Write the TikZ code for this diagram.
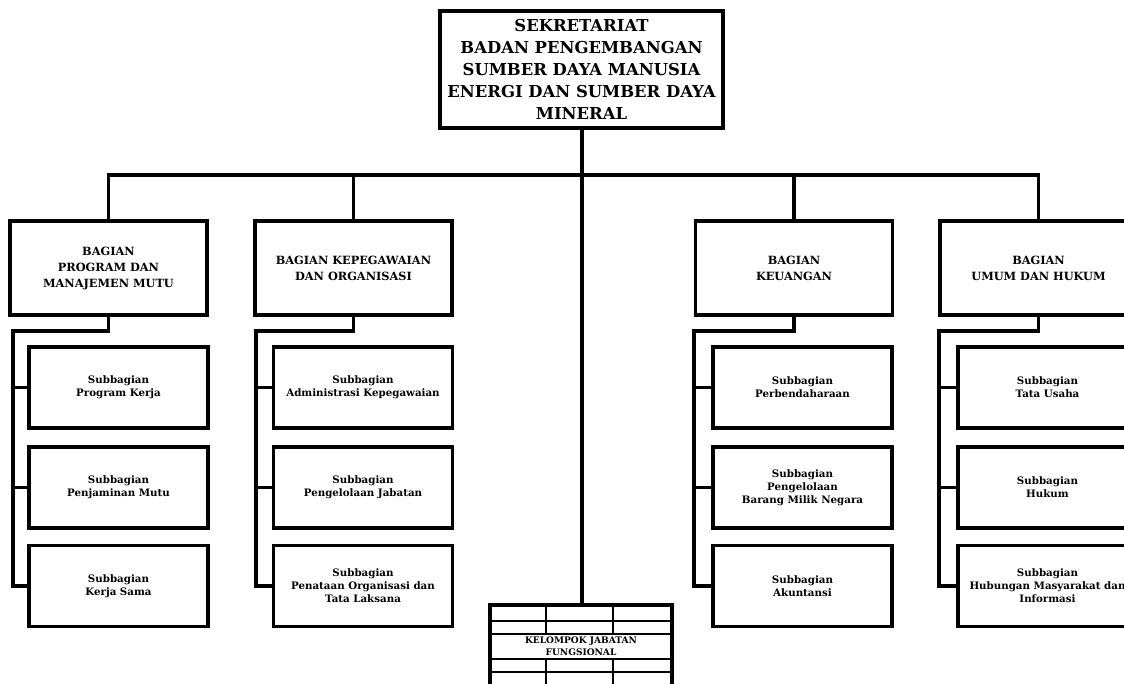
\documentclass[tikz,border=0pt]{standalone}
\usepackage{fontspec}
\setmainfont{DejaVu Serif}
\begin{document}
\begin{tikzpicture}[x=0.75pt,y=-0.75pt,
  ln/.style={line width=2.4pt},
  thin/.style={line width=1.3pt},
  topbox/.style={draw,line width=2.6pt,minimum width=212.25pt,minimum height=87.75pt,inner sep=0pt,outer sep=0pt,align=center,
    font=\bfseries\fontsize{12.3}{16.5}\selectfont},
  bagbox/.style={draw,line width=2.4pt,minimum width=147.75pt,minimum height=70.5pt,inner sep=0pt,outer sep=0pt,align=center,
    font=\bfseries\fontsize{8.5}{12}\selectfont},
  subbox/.style={draw,line width=2.4pt,minimum width=134.25pt,minimum height=60.75pt,inner sep=0pt,outer sep=0pt,align=center,
    font=\bfseries\fontsize{7.7}{9.75}\selectfont},
  kellabel/.style={inner sep=0pt,align=center,font=\bfseries\fontsize{6.8}{9}\selectfont}
]
\useasboundingbox (0,0) rectangle (1124,683);
\clip (0,0) rectangle (1124,683);

% top
\node[topbox] (top) at (581.5,69.5) {SEKRETARIAT\\BADAN PENGEMBANGAN\\SUMBER DAYA MANUSIA\\ENERGI DAN SUMBER DAYA\\MINERAL};

% bagian
\node[bagbox] (b1) at (108.5,268) {BAGIAN\\PROGRAM DAN\\MANAJEMEN MUTU};
\node[bagbox] (b2) at (353.5,268) {BAGIAN KEPEGAWAIAN\\DAN ORGANISASI};
\node[bagbox] (b3) at (794,268) {BAGIAN\\KEUANGAN};
\node[bagbox] (b4) at (1038.5,268) {BAGIAN\\UMUM DAN HUKUM};

% subbagian
\node[subbox] (s11) at (118.5,387.5) {Subbagian\\Program Kerja};
\node[subbox] (s12) at (118.5,487.5) {Subbagian\\Penjaminan Mutu};
\node[subbox] (s13) at (118.5,586) {Subbagian\\Kerja Sama};
\node[subbox] (s21) at (363,387.5) {Subbagian\\Administrasi Kepegawaian};
\node[subbox] (s22) at (363,487.5) {Subbagian\\Pengelolaan Jabatan};
\node[subbox] (s23) at (363,586) {Subbagian\\Penataan Organisasi dan\\Tata Laksana};
\node[subbox] (s31) at (802.5,387.5) {Subbagian\\Perbendaharaan};
\node[subbox] (s32) at (802.5,487.5) {Subbagian\\Pengelolaan\\Barang Milik Negara};
\node[subbox] (s33) at (802.5,586) {Subbagian\\Akuntansi};
\node[subbox] (s41) at (1047.5,387.5) {Subbagian\\Tata Usaha};
\node[subbox] (s42) at (1047.5,487.5) {Subbagian\\Hukum};
\node[subbox] (s43) at (1047.5,586) {Subbagian\\Hubungan Masyarakat dan\\Informasi};

% kelompok jabatan fungsional (table)
\coordinate (kTL) at (490,605);
\coordinate (kBR) at (672,700);
\node[kellabel] (kel) at (581,646.5) {KELOMPOK JABATAN\\FUNGSIONAL};
\coordinate (ktop) at (582,605);
\draw[ln] (kTL) rectangle (kBR);
\draw[thin] (490,621) -- (672,621);
\draw[thin] (490,634) -- (672,634);
\draw[thin] (490,659) -- (672,659);
\draw[thin] (490,672) -- (672,672);
\draw[thin] (546,605) -- (546,634);
\draw[thin] (613,605) -- (613,634);
\draw[thin] (546,659) -- (546,700);
\draw[thin] (613,659) -- (613,700);

% main connectors
\coordinate (bus) at (582,175);
\draw[ln] (top.south -| ktop) -- (ktop);
\draw[ln] (b1.north) |- (bus) -| (b4.north);
\draw[ln] (b2.north) -- (b2.north |- bus);
\draw[ln] (b3.north) -- (b3.north |- bus);

% group connectors
\coordinate (t1) at (13,331);
\coordinate (t2) at (256,331);
\coordinate (t3) at (694,331);
\coordinate (t4) at (939,331);
\draw[ln] (b1.south) |- (t1) |- (s13.west);
\draw[ln] (b2.south) |- (t2) |- (s23.west);
\draw[ln] (b3.south) |- (t3) |- (s33.west);
\draw[ln] (b4.south) |- (t4) |- (s43.west);
\foreach \g/\t in {1/t1,2/t2,3/t3,4/t4}{
  \draw[ln] (s\g1.west) -- (s\g1.west -| \t);
  \draw[ln] (s\g2.west) -- (s\g2.west -| \t);
}
\end{tikzpicture}
\end{document}
